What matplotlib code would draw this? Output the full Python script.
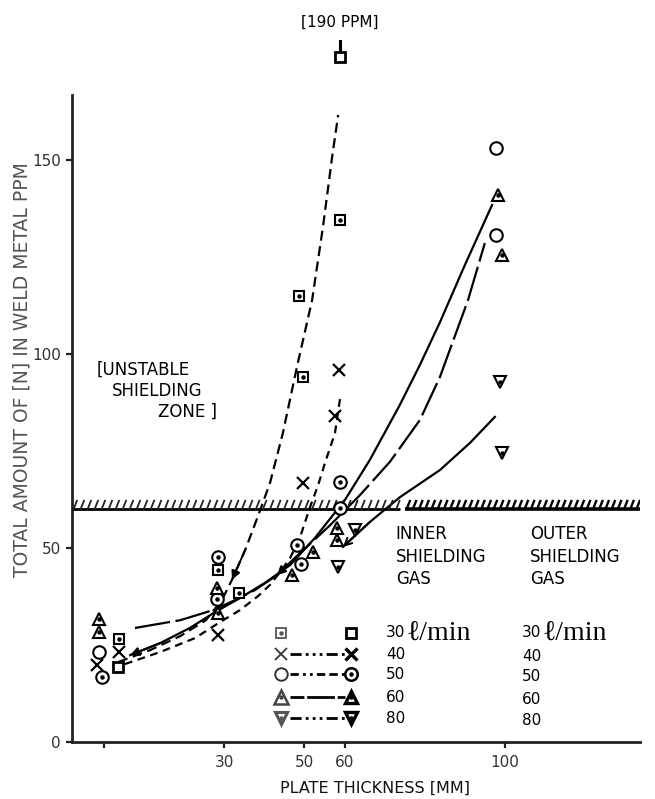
import matplotlib
matplotlib.use("Agg")
import matplotlib.pyplot as plt
import numpy as np
from matplotlib.lines import Line2D
from matplotlib.collections import LineCollection

# ---------------- data (plate thickness mm, N ppm) ----------------
sq_dot_x = [3.7, 28.4, 33.7, 49.6, 48.6, 58.9]
sq_dot_y = [26.5, 44.3, 38.4, 94.1, 115.0, 134.5]
sq_x = [3.5, 58.9]
sq_y = [19.3, 190.0]
cross_x = [-1.7, 3.7, 28.4, 49.6, 57.6, 58.6]
cross_y = [19.8, 23.2, 27.6, 66.8, 84.0, 95.9]
circ_x = [-1.2, 97.8, 97.8]
circ_y = [23.2, 153.1, 130.7]
circ_dot_x = [-0.5, 28.4, 28.2, 58.9, 58.9, 48.1, 49.1]
circ_dot_y = [16.8, 47.7, 36.9, 67.0, 60.3, 50.8, 45.9]
tri_x = [-1.2, -1.2, 28.2, 28.4, 58.1, 58.1, 52.1, 46.9, 98.3, 99.3]
tri_y = [31.7, 28.4, 39.7, 33.2, 55.2, 52.0, 49.0, 43.0, 141.0, 125.5]
tdn_x = [62.6, 58.4, 98.8, 99.3]
tdn_y = [54.6, 45.1, 92.8, 74.5]

# curves as drawn on the chart
curve30_x = [3.5, 11.5, 19.0, 25.4, 29.4, 31.9, 35.2, 38.5, 41.4, 44.6, 48.1, 51.9, 54.6, 56.9, 58.4]
curve30_y = [20.6, 23.7, 27.3, 31.4, 36.6, 41.8, 49.5, 58.5, 66.8, 79.6, 96.6, 113.9, 132.7, 150.8, 161.6]
curve40_x = [5.2, 14.0, 22.7, 28.9, 33.9, 38.4, 41.4, 43.9, 46.4, 48.9, 51.4, 53.4, 55.1, 57.6, 58.9]
curve40_y = [20.1, 23.2, 26.8, 30.9, 34.0, 37.6, 40.5, 43.8, 47.4, 52.8, 60.6, 66.2, 71.9, 79.6, 88.7]
curve60_x = [6.5, 14.0, 21.4, 27.7, 33.9, 40.1, 46.4, 52.6, 60.1, 66.3, 73.8, 78.8, 83.8, 90.0, 96.8]
curve60_y = [22.4, 25.5, 29.4, 33.5, 37.1, 41.0, 45.6, 52.6, 62.4, 72.7, 86.9, 97.2, 108.2, 122.9, 138.4]
curve50_x = [7.7, 19.0, 27.2, 32.7, 37.7, 43.1, 48.9, 56.4, 63.8, 71.3, 78.8, 83.8, 90.8, 95.0]
curve50_y = [29.4, 31.4, 34.0, 36.6, 39.2, 43.0, 48.7, 55.9, 63.6, 72.2, 83.0, 94.1, 113.9, 128.6]
curve80_x = [59.6, 66.3, 73.8, 83.8, 91.3, 97.5]
curve80_y = [50.3, 56.7, 63.1, 70.1, 77.1, 83.8]

unstable_level = 60.0
offscale_value = 190.0
flows = ["30", "40", "50", "60", "80"]

x_ticks = [0, 30, 50, 60, 100]
x_ticklabels = ["", "30", "50", "60", "100"]
y_ticks = [0, 50, 100, 150]

# ---------------- figure ----------------
plt.rcParams["font.family"] = ["DejaVu Sans"]
fig = plt.figure(figsize=(6.55, 7.99), dpi=100)
ax = fig.add_axes([0.110, 0.0713, 0.867, 0.810])
XMIN, XMAX, YMIN, YMAX = -8.0, 133.7, 0.0, 166.8
ax.set_xlim(XMIN, XMAX)
ax.set_ylim(YMIN, YMAX)
for s in ("top", "right"):
    ax.spines[s].set_visible(False)
for s in ("left", "bottom"):
    ax.spines[s].set_linewidth(2.0)
    ax.spines[s].set_color("#222222")

ax.set_xticks(x_ticks)
ax.set_xticklabels(x_ticklabels)
ax.set_yticks(y_ticks)
ax.tick_params(axis="both", length=4, width=1.6, labelsize=11, colors="#222222",
               labelcolor="#333333")
ax.tick_params(axis="x", pad=5)
ax.tick_params(axis="y", pad=4)

ax.set_xlabel("PLATE THICKNESS [MM]", fontsize=11.5, color="#111111", va="top")
ax.xaxis.set_label_coords(0.533, -0.060)
ax.set_ylabel("TOTAL AMOUNT OF [N] IN WELD METAL PPM", fontsize=13.5, color="#555555")
ax.yaxis.set_label_coords(-0.072, 0.575)

# curves
lw = 1.6
ax.plot(curve30_x, curve30_y, color="k", lw=lw, dashes=(4.5, 2.5))
ax.plot(curve40_x, curve40_y, color="k", lw=lw, dashes=(3.5, 2.5))
ax.plot(curve60_x, curve60_y, color="k", lw=lw)
ax.plot(curve50_x, curve50_y, color="k", lw=lw, dashes=(16, 2.5))
ax.plot(curve80_x, curve80_y, color="k", lw=lw)

# arrowheads on curves, pointing back toward thin plates
def arrow_on(cx, cy, i, style="-|>"):
    ax.annotate("", xy=(cx[i], cy[i]), xytext=(cx[i + 1], cy[i + 1]),
                arrowprops=dict(arrowstyle=style, color="k", lw=1.4,
                                mutation_scale=13, shrinkA=0, shrinkB=0))

arrow_on(curve30_x, curve30_y, 5)
arrow_on(curve50_x, curve50_y, 5)
arrow_on(curve60_x, curve60_y, 0)
arrow_on(curve80_x, curve80_y, 0, style="->")

# unstable shielding zone threshold (hatched)
seg_split = 73.8
hatch_h = 2.4
for x0, x1, lwv, step, hlw, hc in ((XMIN, seg_split, 2.0, 1.75, 1.3, "#222222"),
                                    (seg_split + 1.3, XMAX, 2.6, 1.55, 1.7, "k")):
    ax.plot([x0, x1], [unstable_level, unstable_level], color="k", lw=lwv,
            solid_capstyle="butt", clip_on=False, zorder=3)
    hx = np.arange(x0 + 0.3, x1 - 0.8, step)
    segs = [[(h, unstable_level - 0.2), (h + 1.0, unstable_level + hatch_h)] for h in hx]
    ax.add_collection(LineCollection(segs, colors=hc, linewidths=hlw, zorder=3))

# markers
def pts(x, y, marker, dot=True, mec="k", mew=1.5, size=8.5):
    y = np.minimum(np.asarray(y, float), 176.5)
    ax.plot(x, y, ls="none", marker=marker, ms=size, mfc="white", mec=mec,
            mew=mew, clip_on=False, zorder=5)
    if dot:
        ax.plot(x, y, ls="none", marker="o", ms=2.2, color=mec, clip_on=False,
                zorder=6)

pts(sq_dot_x, sq_dot_y, "s", dot=True, size=7.5)
pts(sq_x, sq_y, "s", dot=False, size=7.5, mew=2.0)
pts(cross_x, cross_y, "x", dot=False, size=8, mew=1.6)
pts(circ_x, circ_y, "o", dot=False, size=9)
pts(circ_dot_x, circ_dot_y, "o", dot=True, size=9)
pts(tri_x, tri_y, "^", dot=True, size=9)
pts(tdn_x, tdn_y, "v", dot=True, size=9)

# off-scale annotation
ax.text(58.9, 185.6, "[190 PPM]", ha="center", va="center", fontsize=11)
ax.plot([58.9, 58.9], [178.0, 180.8], color="k", lw=2.2, clip_on=False)

# region text
ax.text(-1.8, 96.0, "[UNSTABLE", fontsize=12, ha="left", va="center")
ax.text(2.0, 90.4, "SHIELDING", fontsize=12, ha="left", va="center")
ax.text(13.5, 85.0, "ZONE ]", fontsize=12, ha="left", va="center")

for xx, word in ((72.8, "INNER"), (106.3, "OUTER")):
    ax.text(xx, 53.5, word, fontsize=12, ha="left", va="center")
    ax.text(xx, 47.6, "SHIELDING", fontsize=12, ha="left", va="center")
    ax.text(xx, 42.0, "GAS", fontsize=12, ha="left", va="center")

# legend drawn in axes fraction coordinates
T = ax.transAxes
def fx(px):
    return (px - 72) / 568.0
def fy(py):
    return (742 - py) / 647.0

rows_py = [633, 654, 674, 697, 718]
left_m = [("s", True, "#555555", 1.3, 7), ("x", False, "#333333", 1.3, 8),
          ("o", False, "#333333", 1.4, 9), ("^", True, "#444444", 1.8, 10),
          ("v", True, "#555555", 2.2, 9)]
right_m = [("s", False, "k", 2.0, 7), ("x", False, "k", 2.4, 8),
           ("o", True, "k", 1.8, 9), ("^", True, "k", 2.4, 9),
           ("v", True, "k", 2.4, 9)]
row_dashes = [None, (4, 1.5, 1, 1.5, 1, 1.5, 1, 1.5), (3, 1.5, 1, 1.5, 1, 1.5, 3, 1.5, 3, 1.5),
              (5, 1, 10, 1), (4, 1.5, 1, 1.5, 1, 1.5, 1, 1.5)]
serif = ["Liberation Serif", "DejaVu Serif", "DejaVu Sans"]
for i, py in enumerate(rows_py):
    y = fy(py)
    if row_dashes[i] is not None:
        ax.add_line(Line2D([fx(290), fx(345)], [y, y], transform=T, color="k",
                           lw=2.0, dashes=row_dashes[i]))
    for (mk, dt, col, mw, sz), px in ((left_m[i], 281), (right_m[i], 351)):
        ax.add_line(Line2D([fx(px)], [y], transform=T, ls="none", marker=mk,
                           ms=sz, mfc="white", mec=col, mew=mw, zorder=7))
        if dt:
            ax.add_line(Line2D([fx(px)], [y], transform=T, ls="none", marker="o",
                               ms=2.2, color=col, zorder=8))
    if i == 0:
        for tx in (386, 522):
            ax.text(fx(tx), y, "30", transform=T, fontsize=11, ha="left", va="center")
            ax.text(fx(tx + 20), y, "\u2113/min", transform=T, fontsize=20,
                    family=serif, ha="left", va="center")
    else:
        ax.text(fx(386), y, flows[i], transform=T, fontsize=11, ha="left", va="center")
        ax.text(fx(522), y - 0.004, flows[i], transform=T, fontsize=11, ha="left",
                va="center")

fig.savefig("out.png", dpi=100)
